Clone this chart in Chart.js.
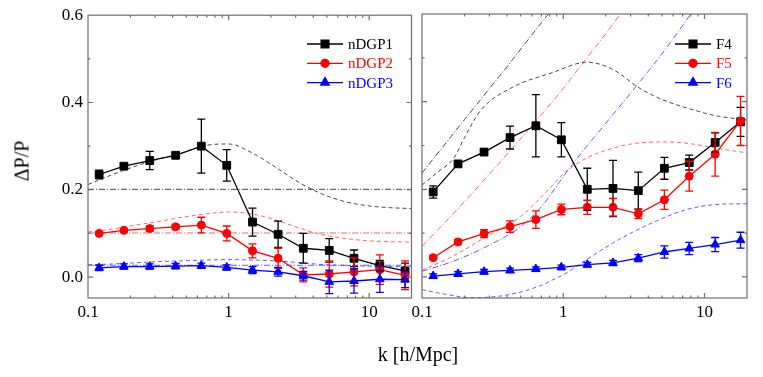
<!DOCTYPE html>
<html>
<head>
<meta charset="utf-8">
<script src="https://cdn.jsdelivr.net/npm/chart.js@4.4.1/dist/chart.umd.min.js"></script>
<style>
  body { margin: 0; background: #fff; }
  #wrap { position: relative; width: 763px; height: 377px; font-family: "Liberation Serif", "Times New Roman", serif; }
  #left { position: absolute; left: 0; top: 0; }
  #right { position: absolute; left: 378px; top: 0; }
  .ytitle { position: absolute; left: 22px; top: 161px; transform: translate(-50%, -50%) rotate(-90deg); font-size: 20px; white-space: nowrap; }
  .xtitle { position: absolute; left: 418px; top: 354px; transform: translate(-50%, -50%); font-size: 20px; white-space: nowrap; }
</style>
</head>
<body>
<div id="wrap">
  <canvas id="left" width="418" height="377"></canvas>
  <canvas id="right" width="385" height="377"></canvas>
  <div class="ytitle">ΔP/P</div>
  <div class="xtitle">k [h/Mpc]</div>
</div>
<script>
// k bins of the measurements (same for both panels)
const kValues = [0.12, 0.18, 0.275, 0.42, 0.64, 0.97, 1.48, 2.25, 3.4, 5.2, 7.8, 11.9, 18.0];

// left panel: nDGP models
const nDGP1 = [0.235, 0.254, 0.267, 0.279, 0.300, 0.256, 0.126, 0.098, 0.066, 0.061, 0.043, 0.026, 0.014];
const nDGP1Err = [0.010, 0.006, 0.021, 0.006, 0.062, 0.036, 0.032, 0.030, 0.034, 0.027, 0.019, 0.012, 0.018];
const nDGP2 = [0.100, 0.107, 0.111, 0.115, 0.119, 0.100, 0.060, 0.043, 0.005, 0.007, 0.012, 0.017, 0.004];
const nDGP2Err = [0.004, 0.004, 0.006, 0.005, 0.018, 0.017, 0.016, 0.023, 0.016, 0.030, 0.032, 0.034, 0.033];
const nDGP3 = [0.021, 0.024, 0.024, 0.025, 0.026, 0.022, 0.016, 0.012, 0.003, -0.011, -0.009, -0.005, -0.006];
const nDGP3Err = [0.006, 0.006, 0.006, 0.006, 0.006, 0.006, 0.008, 0.010, 0.010, 0.027, 0.028, 0.030, 0.018];

// right panel: f(R) models
const F4 = [0.194, 0.258, 0.285, 0.318, 0.345, 0.313, 0.200, 0.202, 0.197, 0.248, 0.261, 0.307, 0.354];
const F4Err = [0.014, 0.006, 0.004, 0.026, 0.071, 0.039, 0.048, 0.064, 0.042, 0.025, 0.017, 0.022, 0.033];
const F5 = [0.044, 0.080, 0.099, 0.115, 0.131, 0.154, 0.159, 0.159, 0.144, 0.176, 0.230, 0.280, 0.356];
const F5Err = [0.004, 0.005, 0.009, 0.013, 0.020, 0.012, 0.016, 0.020, 0.011, 0.022, 0.034, 0.050, 0.056];
const F6 = [0.002, 0.007, 0.012, 0.015, 0.018, 0.022, 0.028, 0.032, 0.043, 0.057, 0.065, 0.074, 0.084];
const F6Err = [0.005, 0.005, 0.005, 0.005, 0.005, 0.005, 0.005, 0.006, 0.008, 0.014, 0.014, 0.016, 0.018];

// theory curves, left panel (dashed = nonlinear, dash-dot = linear)
const thK = [0.1, 0.15, 0.2, 0.3, 0.45, 0.7, 1.0, 1.5, 2.2, 3.2, 4.5, 6.5, 10, 14, 20];
const nDGP1Dash = [0.212, 0.235, 0.250, 0.268, 0.283, 0.302, 0.305, 0.283, 0.250, 0.216, 0.192, 0.174, 0.163, 0.159, 0.157];
const nDGP2Dash = [0.103, 0.110, 0.117, 0.126, 0.136, 0.145, 0.149, 0.144, 0.130, 0.112, 0.098, 0.089, 0.083, 0.081, 0.080];
const nDGP3Dash = [0.028, 0.030, 0.032, 0.035, 0.037, 0.039, 0.040, 0.039, 0.037, 0.033, 0.029, 0.027, 0.025, 0.024, 0.024];
const linEnds = [0.1, 20];
const nDGPLin = [0.201, 0.101, 0.027];

// theory curves, right panel
const F4DashK = [0.1, 0.13, 0.167, 0.2, 0.26, 0.42, 0.85, 1.47, 2.2, 3.5, 5, 8, 12, 20];
const F4Dash = [0.210, 0.240, 0.270, 0.318, 0.380, 0.430, 0.467, 0.490, 0.475, 0.430, 0.405, 0.383, 0.368, 0.358];
const F4LinK = [0.1, 0.2, 0.4, 0.7, 1.0];
const F4Lin = [0.237, 0.359, 0.480, 0.580, 0.642];
const F5DashK = [0.1, 0.167, 0.288, 0.5, 0.79, 1.0, 1.4, 2.2, 3.5, 5.5, 8, 12, 20];
const F5Dash = [0.015, 0.048, 0.093, 0.138, 0.200, 0.235, 0.268, 0.293, 0.306, 0.308, 0.304, 0.294, 0.283];
const F5LinK = [0.1, 0.2, 0.4, 0.69, 1.0, 1.39, 2.0, 2.53, 3.0];
const F5Lin = [0.070, 0.172, 0.280, 0.368, 0.430, 0.490, 0.555, 0.600, 0.635];
const F6DashK = [0.1, 0.15, 0.22, 0.3, 0.45, 0.7, 0.85, 1.0, 1.47, 2.5, 4.3, 7.5, 13, 20];
const F6Dash = [-0.029, -0.040, -0.047, -0.046, -0.038, -0.019, -0.006, 0.005, 0.040, 0.086, 0.124, 0.154, 0.166, 0.167];
const F6LinK = [0.1, 0.167, 0.288, 0.5, 0.72, 0.98, 1.36, 1.88, 3.3, 5.3, 8.2, 10];
const F6Lin = [0.013, 0.036, 0.070, 0.115, 0.165, 0.225, 0.285, 0.340, 0.436, 0.520, 0.605, 0.645];

const xTicks = [0.1, 1, 10];
const yTicks = [0, 0.2, 0.4, 0.6];

const serif = '"Liberation Serif", "Times New Roman", serif';
const DASH = [4, 3];
const DASHDOT = [6, 2, 1, 2];

function pts(ks, vs) {
  return ks.map((k, i) => ({ x: k, y: vs[i] }));
}

function series(label, vals, errs, color, style, radius, order) {
  return {
    label, data: pts(kValues, vals), errors: errs, inLegend: true, order,
    borderColor: color, backgroundColor: color, borderWidth: 1.3,
    pointStyle: style, pointRadius: radius, pointBorderWidth: 1
  };
}

function curve(ks, vs, color, dash) {
  return {
    data: pts(ks, vs), order: 10,
    borderColor: color, borderWidth: 1, borderDash: dash,
    pointRadius: 0, cubicInterpolationMode: 'monotone', fill: false
  };
}

// vertical error bars with caps
const errorBars = {
  id: 'errorBars',
  afterDatasetsDraw(chart) {
    const { ctx } = chart;
    const y = chart.scales.y;
    chart.data.datasets.forEach((ds, i) => {
      if (!ds.errors) return;
      const meta = chart.getDatasetMeta(i);
      ctx.save();
      ctx.strokeStyle = ds.borderColor;
      ctx.lineWidth = 1.3;
      ctx.beginPath();
      meta.data.forEach((p, j) => {
        const v = ds.data[j].y, e = ds.errors[j];
        const top = y.getPixelForValue(v + e), bot = y.getPixelForValue(v - e);
        ctx.moveTo(p.x, top); ctx.lineTo(p.x, bot);
        ctx.moveTo(p.x - 4, top); ctx.lineTo(p.x + 4, top);
        ctx.moveTo(p.x - 4, bot); ctx.lineTo(p.x + 4, bot);
      });
      ctx.stroke();
      ctx.restore();
    });
  }
};

// gray frame with inward ticks on all sides
const frame = {
  id: 'frame',
  afterDraw(chart) {
    const { ctx, chartArea: a } = chart;
    const x = chart.scales.x, y = chart.scales.y;
    ctx.save();
    ctx.strokeStyle = '#6e6e6e';
    ctx.lineWidth = 1.2;
    ctx.strokeRect(a.left, a.top, a.right - a.left, a.bottom - a.top);
    ctx.beginPath();
    for (const d of xTicks) {
      for (let m = 1; m <= 9; m++) {
        const v = d * m;
        if (v <= x.min || v >= x.max) continue;
        const px = x.getPixelForValue(v), len = m === 1 ? 5 : 2.5;
        ctx.moveTo(px, a.bottom); ctx.lineTo(px, a.bottom - len);
        ctx.moveTo(px, a.top); ctx.lineTo(px, a.top + len);
      }
    }
    for (let i = 0; i <= 6; i++) {
      const v = i / 10;
      if (v >= y.max) continue;
      const py = y.getPixelForValue(v), len = i % 2 === 0 ? 5 : 2.5;
      ctx.moveTo(a.left, py); ctx.lineTo(a.left + len, py);
      ctx.moveTo(a.right, py); ctx.lineTo(a.right - len, py);
    }
    ctx.stroke();
    ctx.restore();
  }
};

// legend drawn as line + marker + coloured label
const lineLegend = {
  id: 'lineLegend',
  afterDraw(chart, args, opts) {
    const { ctx } = chart;
    ctx.save();
    ctx.font = '15px ' + serif;
    ctx.textBaseline = 'middle';
    let row = 0;
    chart.data.datasets.forEach(ds => {
      if (!ds.inLegend) return;
      const yy = opts.y + row * opts.dy;
      ctx.strokeStyle = ds.borderColor;
      ctx.fillStyle = ds.backgroundColor;
      ctx.lineWidth = 1.3;
      ctx.setLineDash([]);
      ctx.beginPath();
      ctx.moveTo(opts.x, yy); ctx.lineTo(opts.x + 36, yy);
      ctx.stroke();
      Chart.helpers.drawPoint(ctx, { pointStyle: ds.pointStyle, radius: ds.pointRadius, rotation: 0, borderWidth: 1 }, opts.x + 18, yy);
      ctx.fillStyle = ds.borderColor;
      ctx.fillText(ds.label, opts.x + 41, yy + 1);
      row++;
    });
    ctx.restore();
  }
};

function makeChart(id, datasets, isLeft, legendPos) {
  return new Chart(document.getElementById(id), {
    type: 'line',
    data: { datasets },
    options: {
      responsive: false,
      animation: false,
      devicePixelRatio: 1,
      layout: { padding: isLeft ? { left: 0, right: 5, top: 14, bottom: 0 } : { left: 44, right: 16, top: 14, bottom: 0 } },
      plugins: { legend: { display: false }, tooltip: { enabled: false }, lineLegend: legendPos },
      scales: {
        x: {
          type: 'logarithmic', min: 0.1, max: 20,
          grid: { display: false, drawTicks: false },
          border: { display: false },
          afterBuildTicks: s => { s.ticks = xTicks.map(v => ({ value: v })); },
          afterFit: s => { s.height = 79; },
          ticks: { color: '#000', font: { family: serif, size: 17 }, padding: 4, maxRotation: 0, autoSkip: false, callback: v => String(v) }
        },
        y: {
          type: 'linear', min: -0.048, max: 0.6, display: isLeft,
          grid: { display: false, drawTicks: false },
          border: { display: false },
          afterBuildTicks: s => { s.ticks = yTicks.map(v => ({ value: v })); },
          afterFit: s => { s.width = isLeft ? 88 : 0; },
          ticks: { color: '#000', font: { family: serif, size: 17 }, padding: 5, callback: v => v.toFixed(1) }
        }
      }
    },
    plugins: [errorBars, frame, lineLegend]
  });
}

makeChart('left', [
  series('nDGP1', nDGP1, nDGP1Err, '#000000', 'rect', 5.5, 3),
  series('nDGP2', nDGP2, nDGP2Err, '#ff0000', 'circle', 4, 2),
  series('nDGP3', nDGP3, nDGP3Err, '#0000ff', 'triangle', 5, 1),
  curve(thK, nDGP1Dash, 'rgba(40,40,40,0.85)', DASH),
  curve(thK, nDGP2Dash, 'rgba(255,50,50,0.75)', DASH),
  curve(thK, nDGP3Dash, 'rgba(40,40,255,0.75)', DASH),
  curve(linEnds, [nDGPLin[0], nDGPLin[0]], 'rgba(40,40,40,0.85)', DASHDOT),
  curve(linEnds, [nDGPLin[1], nDGPLin[1]], 'rgba(255,50,50,0.75)', DASHDOT),
  curve(linEnds, [nDGPLin[2], nDGPLin[2]], 'rgba(40,40,255,0.75)', DASHDOT)
], true, { x: 307, y: 44, dy: 19.3 });

makeChart('right', [
  series('F4', F4, F4Err, '#000000', 'rect', 5.5, 3),
  series('F5', F5, F5Err, '#ff0000', 'circle', 4, 2),
  series('F6', F6, F6Err, '#0000ff', 'triangle', 5, 1),
  curve(F4DashK, F4Dash, 'rgba(40,40,40,0.85)', DASH),
  curve(F5DashK, F5Dash, 'rgba(255,50,50,0.75)', DASH),
  curve(F6DashK, F6Dash, 'rgba(40,40,255,0.75)', DASH),
  curve(F4LinK, F4Lin, 'rgba(40,40,40,0.85)', DASHDOT),
  curve(F5LinK, F5Lin, 'rgba(255,50,50,0.75)', DASHDOT),
  curve(F6LinK, F6Lin, 'rgba(40,40,255,0.75)', DASHDOT)
], false, { x: 297, y: 44, dy: 19.3 });
</script>
</body>
</html>
